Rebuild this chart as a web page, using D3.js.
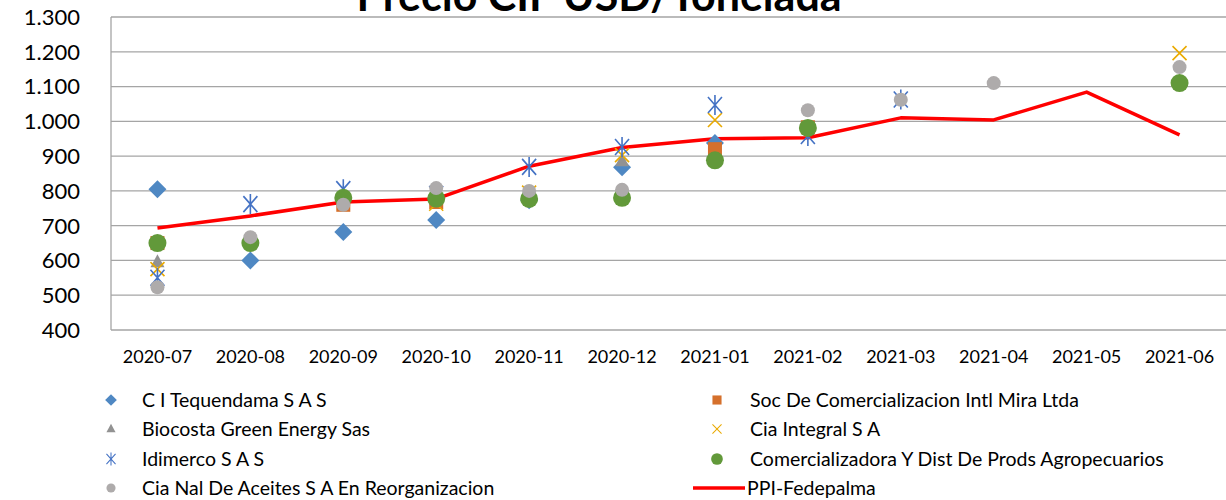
<!DOCTYPE html>
<html>
<head>
<meta charset="utf-8">
<script src="https://cdn.jsdelivr.net/npm/d3@7"></script>
<style>
  body { margin: 0; background: #fff; }
  svg { display: block; font-family: Lato, 'Open Sans', sans-serif; }
</style>
</head>
<body>
<svg id="chart" width="1226" height="500"></svg>
<script>
const months = ['2020-07', '2020-08', '2020-09', '2020-10', '2020-11', '2020-12',
  '2021-01', '2021-02', '2021-03', '2021-04', '2021-05', '2021-06'];
const yTicks = [400, 500, 600, 700, 800, 900, 1000, 1100, 1200, 1300];

const tequendama = [805, 600, 682, 716, 773, 868, 938, null, null, null, null, null];
const socMira = [650, null, 760, 768, null, null, 920, 983, null, null, null, null];
const biocosta = [595, null, null, null, null, 885, null, null, null, null, null, null];
const ciaIntegral = [575, null, null, 763, 795, 903, 1004, null, null, null, null, 1196];
const idimerco = [550, 762, 805, 791, 869, 926, 1047, 958, 1063, null, null, null];
const comercializadora = [650, 650, 780, 778, 777, 780, 888, 981, null, null, null, 1110];
const ciaNal = [523, 667, 760, 808, 800, 803, null, 1032, 1062, 1110, null, 1156];
const ppi = [693, 728, 768, 777, 871, 925, 950, 953, 1010, 1004, 1084, 961];

const series = [
  { name: 'C I Tequendama S A S', values: tequendama, shape: 'diamond', color: '#4f88c3' },
  { name: 'Soc De Comercializacion Intl Mira Ltda', values: socMira, shape: 'square', color: '#d5702c' },
  { name: 'Biocosta Green Energy Sas', values: biocosta, shape: 'triangle', color: '#929292' },
  { name: 'Cia Integral S A', values: ciaIntegral, shape: 'x', color: '#eaaa00' },
  { name: 'Idimerco S A S', values: idimerco, shape: 'star', color: '#4472c4' },
  { name: 'Comercializadora Y Dist De Prods Agropecuarios', values: comercializadora, shape: 'bigcircle', color: '#62993a' },
  { name: 'Cia Nal De Aceites S A En Reorganizacion', values: ciaNal, shape: 'circle', color: '#aeabab' }
];

const svg = d3.select('#chart');
const plotLeft = 111, plotRight = 1226, plotTop = 17, plotBottom = 330;

const xBand = d3.scaleBand().domain(months).range([plotLeft, plotRight]);
const x = m => xBand(m) + xBand.bandwidth() / 2;
const y = d3.scaleLinear().domain([400, 1300]).range([plotBottom, plotTop]);

// grid
svg.append('g')
  .selectAll('line')
  .data(yTicks)
  .join('line')
  .attr('x1', plotLeft)
  .attr('x2', plotRight)
  .attr('y1', d => y(d))
  .attr('y2', d => y(d))
  .style('stroke', '#a5a5a5')
  .style('stroke-width', 1.3);

svg.append('line')
  .attr('x1', plotLeft).attr('x2', plotLeft)
  .attr('y1', plotTop).attr('y2', plotBottom)
  .style('stroke', '#a5a5a5')
  .style('stroke-width', 1.3);

// y labels
svg.append('g')
  .selectAll('text')
  .data(yTicks)
  .join('text')
  .attr('x', 80)
  .attr('y', d => y(d))
  .attr('dy', '0.36em')
  .style('text-anchor', 'end')
  .style('font-size', '22px')
  .style('fill', '#000')
  .text(d => d3.format(',')(d).replace(',', '.'));

// x labels
svg.append('g')
  .selectAll('text')
  .data(months)
  .join('text')
  .attr('x', d => x(d))
  .attr('y', 357)
  .attr('dy', '0.36em')
  .style('text-anchor', 'middle')
  .style('font-size', '18px')
  .style('fill', '#000')
  .text(d => d);

// title (cut at the top edge, as in the source image)
svg.append('text')
  .attr('x', 599)
  .attr('y', 11)
  .style('text-anchor', 'middle')
  .style('font-size', '43px')
  .style('font-weight', '700')
  .text('Precio CIF USD/Tonelada');

function drawMarker (g, shape, color) {
  if (shape === 'diamond') {
    g.append('path').attr('d', 'M0,-9L9,0L0,9L-9,0Z').style('fill', color);
  } else if (shape === 'square') {
    g.append('rect').attr('x', -7).attr('y', -7).attr('width', 14).attr('height', 14).style('fill', color);
  } else if (shape === 'triangle') {
    g.append('path').attr('d', 'M0,-8L7,5L-7,5Z').style('fill', color);
  } else if (shape === 'x') {
    g.append('path').attr('d', 'M-7,-7L7,7M-7,7L7,-7').style('stroke', color).style('stroke-width', 1.6).style('fill', 'none');
  } else if (shape === 'star') {
    g.append('path').attr('d', 'M-7,-8L7,8M-7,8L7,-8M0,-10L0,10').style('stroke', color).style('stroke-width', 1.6).style('fill', 'none');
  } else if (shape === 'bigcircle') {
    g.append('circle').attr('r', 9).style('fill', color);
  } else {
    g.append('circle').attr('r', 7).style('fill', color);
  }
}

// PPI line (under the markers)
const line = d3.line().x((d, i) => x(months[i])).y(d => y(d));
svg.append('path')
  .datum(ppi)
  .attr('d', line)
  .style('fill', 'none')
  .style('stroke', '#ff0000')
  .style('stroke-width', 3.5)
  .style('stroke-linejoin', 'round');

series.forEach(s => {
  svg.append('g')
    .selectAll('g')
    .data(s.values.map((v, i) => ({ v, m: months[i] })).filter(d => d.v !== null))
    .join('g')
    .attr('transform', d => `translate(${x(d.m)},${y(d.v)})`)
    .each(function () { drawMarker(d3.select(this), s.shape, s.color); });
});

// legend
const legendItems = series.map(s => ({ name: s.name, shape: s.shape, color: s.color }))
  .concat([{ name: 'PPI-Fedepalma', shape: 'line', color: '#ff0000' }]);
const rowY = [400, 429, 459, 488];

legendItems.forEach((item, i) => {
  const col = i % 2;
  const row = Math.floor(i / 2);
  const mx = col === 0 ? 111 : 717;
  const tx = col === 0 ? 142 : 750;
  const g = svg.append('g').attr('transform', `translate(${mx},${rowY[row]})`);
  if (item.shape === 'line') {
    g.append('line').attr('x1', -24).attr('x2', 28).attr('y1', 0).attr('y2', 0)
      .style('stroke', item.color).style('stroke-width', 3.5);
  } else {
    const m = g.append('g').attr('transform', 'scale(0.65)');
    drawMarker(m, item.shape, item.color);
  }
  svg.append('text')
    .attr('x', item.shape === 'line' ? 747 : tx)
    .attr('y', rowY[row])
    .attr('dy', '0.36em')
    .style('font-size', '19.5px')
    .style('fill', '#000')
    .text(item.name);
});
</script>
</body>
</html>
